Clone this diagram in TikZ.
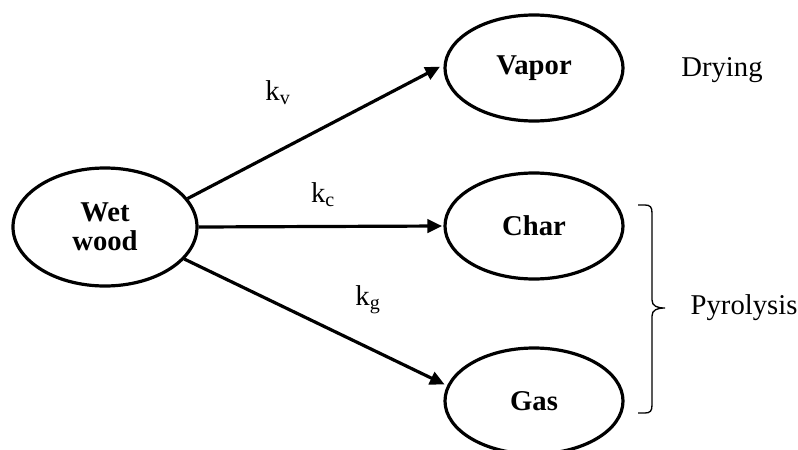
\documentclass[tikz,border=0pt]{standalone}
\usepackage{fontspec}
\setmainfont{Liberation Serif}
\usetikzlibrary{arrows.meta,shapes.geometric}

\begin{document}
\begin{tikzpicture}[x=0.75pt,y=-0.75pt,
    species/.style={ellipse,draw,line width=2.4pt,inner sep=0pt,
      minimum width=178*0.75pt,minimum height=106*0.75pt,
      font=\fontsize{21.5}{23}\selectfont\bfseries,align=center},
    flow/.style={line width=2.4pt,-{Triangle[length=11pt,width=10pt]}},
    rate/.style={font=\fontsize{21.5}{23}\selectfont}]
  \useasboundingbox (0,0) rectangle (798,449);
  % species
  \node[species,minimum width=184*0.75pt,minimum height=118*0.75pt] (wet) at (105,227) {Wet\\[-1pt]wood};
  \node[species] (vapor) at (534,68) {Vapor};
  \node[species] (char) at (534,226) {Char};
  \node[species] (gas) at (534,401) {Gas};
  % reactions
  \draw[flow,shorten >=3pt] (wet.19) -- (vapor.178);
  \draw[flow,shorten >=1pt] (wet.east) -- (char.west);
  \draw[flow,shorten >=2pt] (wet.-22) -- (gas.170);
  \node[rate] (kv) at (278,93) {k\textsubscript{v}};
  \node[rate] (kc) at (323,195) {k\textsubscript{c}};
  \node[rate] (kg) at (368,300) {k\textsubscript{g}};
  % stages
  \node[rate] (drying) at (722,70) {Drying};
  \draw[line width=1pt] (638,205) -- (645,205) .. controls (650,205) and (652,207) .. (652,213)
    -- (652,300) .. controls (652,306) and (657,308) .. (665,308)
    .. controls (657,308) and (652,310) .. (652,316)
    -- (652,405) .. controls (652,411) and (650,413) .. (645,413) -- (638,413);
  \node[rate,anchor=west] (pyro) at (686,308) {Pyrolysis};
\end{tikzpicture}
\end{document}
